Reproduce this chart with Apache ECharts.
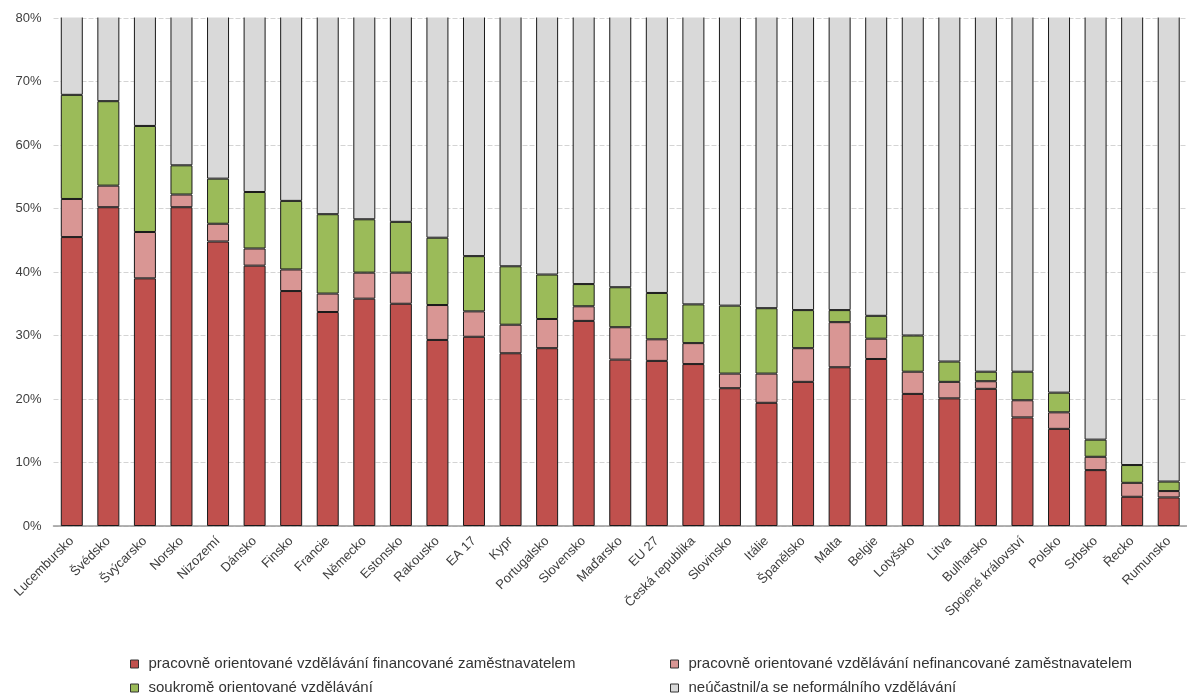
<!DOCTYPE html>
<html>
<head>
<meta charset="utf-8">
<style>
  html, body { margin: 0; padding: 0; background: #fff; }
  #chart { width: 1187px; height: 697px; }
</style>
<script src="https://cdn.jsdelivr.net/npm/echarts@6/dist/echarts.min.js"></script>
</head>
<body>
<div id="chart"></div>
<script>
// Participation in non-formal education by type (% of population)
const categories = [
  'Lucembursko', 'Švédsko', 'Švýcarsko', 'Norsko', 'Nizozemí', 'Dánsko', 'Finsko',
  'Francie', 'Německo', 'Estonsko', 'Rakousko', 'EA 17', 'Kypr', 'Portugalsko',
  'Slovensko', 'Maďarsko', 'EU 27', 'Česká republika', 'Slovinsko', 'Itálie',
  'Španělsko', 'Malta', 'Belgie', 'Lotyšsko', 'Litva', 'Bulharsko',
  'Spojené království', 'Polsko', 'Srbsko', 'Řecko', 'Rumunsko'
];

const seriesNames = [
  'pracovně orientované vzdělávání financované zaměstnavatelem',
  'pracovně orientované vzdělávání nefinancované zaměstnavatelem',
  'soukromě orientované vzdělávání',
  'neúčastnil/a se neformálního vzdělávání'
];

const financovane = [
  45.5, 50.2, 39.0, 50.2, 44.8, 41.0, 37.0, 33.7, 35.8, 35.0, 29.3, 29.8, 27.2, 28.0,
  32.3, 26.2, 26.0, 25.5, 21.7, 19.4, 22.7, 25.0, 26.3, 20.8, 20.1, 21.6, 17.1, 15.3,
  8.8, 4.6, 4.5
];
const nefinancovane = [
  6.0, 3.4, 7.3, 2.0, 2.8, 2.7, 3.4, 2.9, 4.1, 4.9, 5.5, 4.0, 4.5, 4.6,
  2.3, 5.1, 3.4, 3.3, 2.3, 4.6, 5.3, 7.1, 3.2, 3.5, 2.6, 1.2, 2.7, 2.6,
  2.1, 2.2, 1.0
];
const soukrome = [
  16.4, 13.3, 16.7, 4.6, 7.1, 8.9, 10.8, 12.5, 8.4, 8.0, 10.6, 8.7, 9.2, 7.0,
  3.5, 6.3, 7.3, 6.1, 10.7, 10.3, 6.0, 1.9, 3.6, 5.7, 3.2, 1.5, 4.5, 3.1,
  2.7, 2.8, 1.5
];
const neucast = [
  32.1, 33.1, 37.0, 43.2, 45.3, 47.4, 48.8, 50.9, 51.7, 52.1, 54.6, 57.5, 59.1, 60.4,
  61.9, 62.4, 63.3, 65.1, 65.3, 65.7, 66.0, 66.0, 66.9, 70.0, 74.1, 75.7, 75.7, 79.0,
  86.4, 90.4, 93.0
];

const yTicks = [0, 10, 20, 30, 40, 50, 60, 70, 80];

const colors = ['#c0504d', '#d99694', '#9bbb59', '#d9d9d9'];
const font = "'Liberation Sans', Arial, sans-serif";

const chart = echarts.init(document.getElementById('chart'), null, { renderer: 'canvas' });

function barSeries(idx, data) {
  return {
    name: seriesNames[idx],
    type: 'bar',
    stack: 'total',
    data: data,
    barWidth: 22,
    // the last segment runs past the 80 % top and is masked there instead of clipped
    clip: idx < 3,
    itemStyle: { color: colors[idx], borderColor: '#1a1a1a', borderWidth: 1 },
    emphasis: { disabled: true }
  };
}

// one legend block per entry, laid out in two columns
const legendSlots = [
  { idx: 0, left: 125, top: 651 },
  { idx: 1, left: 665, top: 651 },
  { idx: 2, left: 125, top: 675 },
  { idx: 3, left: 665, top: 675 }
];
const legends = legendSlots.map(s => ({
  left: s.left,
  top: s.top,
  icon: 'rect',
  itemWidth: 8,
  itemHeight: 8,
  itemStyle: { borderColor: '#333', borderWidth: 1 },
  textStyle: { fontFamily: font, fontSize: 15, color: '#333', lineHeight: 16, padding: [0, 0, 0, 5] },
  selectedMode: false,
  data: [seriesNames[s.idx]]
}));

chart.setOption({
  animation: false,
  textStyle: { fontFamily: font },
  grid: { left: 53.5, right: -10.6, top: 18, bottom: 171, containLabel: false },
  legend: legends,
  graphic: [
    {
      type: 'rect',
      z: 100,
      shape: { x: 50, y: -10, width: 1160, height: 27.5 },
      style: { fill: '#fff' },
      silent: true
    }
  ],
  xAxis: {
    type: 'category',
    data: categories,
    axisLine: { lineStyle: { color: '#9a9a9a', width: 1.5 } },
    axisTick: { show: false },
    axisLabel: { rotate: 45, interval: 0, fontSize: 13, color: '#404040', margin: 13 }
  },
  yAxis: {
    type: 'value',
    min: yTicks[0],
    max: yTicks[yTicks.length - 1],
    interval: 10,
    axisLine: { show: false },
    axisTick: { show: false },
    axisLabel: { fontSize: 13, color: '#404040', margin: 12, formatter: v => v + '%' },
    splitLine: { lineStyle: { color: '#d4d4d4', width: 1, type: [5, 2] } }
  },
  series: [
    barSeries(0, financovane),
    barSeries(1, nefinancovane),
    barSeries(2, soukrome),
    barSeries(3, neucast)
  ]
});
</script>
</body>
</html>
